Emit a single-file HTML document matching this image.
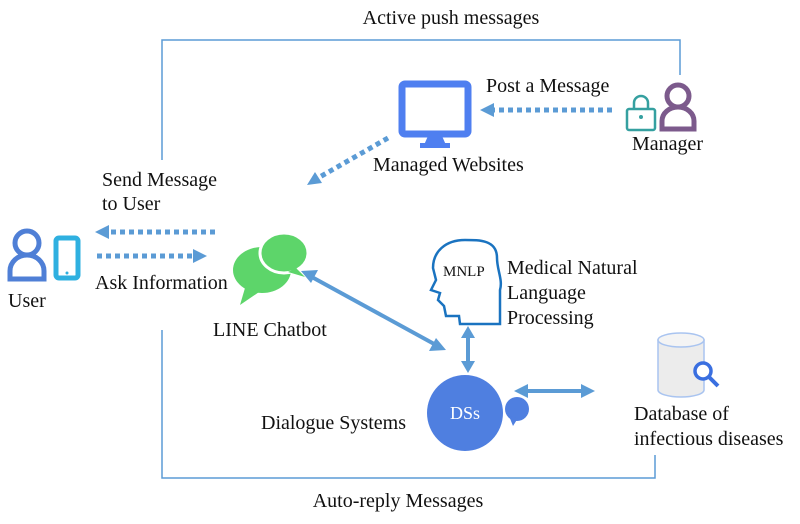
<!DOCTYPE html>
<html><head><style>
body{margin:0;background:#fff}
svg{display:block}
text{font-family:"Liberation Serif",serif;font-size:20px;fill:#111}
</style></head><body>
<svg width="800" height="524" viewBox="0 0 800 524" xmlns="http://www.w3.org/2000/svg">
<g stroke="#5b9bd5" stroke-width="1.5" fill="none">
<polyline points="162,160 162,40 680,40 680,75"/>
<polyline points="162,330 162,478 655,478 655,455"/>
</g>
<text x="451" y="24" text-anchor="middle">Active push messages</text>
<text x="398" y="507" text-anchor="middle">Auto-reply Messages</text>
<g stroke="#5b9bd5" stroke-width="5" stroke-dasharray="5,4" fill="none">
<line x1="612" y1="110" x2="492" y2="110"/>
<line x1="388" y1="138" x2="318" y2="178"/>
<line x1="215" y1="232" x2="108" y2="232"/>
<line x1="97" y1="256" x2="195" y2="256"/>
</g>
<g fill="#5b9bd5">
<path d="M480,110 L494,103 L494,117z"/>
<path d="M307,185 L315,172 L322,183z"/>
<path d="M95,232 L109,225 L109,239z"/>
<path d="M207,256 L193,249 L193,263z"/>
</g>
<g stroke="#5b9bd5" stroke-width="4" fill="none">
<line x1="310" y1="276" x2="436" y2="345"/>
<line x1="468" y1="336" x2="468" y2="364"/>
<line x1="526" y1="391" x2="582" y2="391"/>
</g>
<g fill="#5b9bd5">
<path d="M301,271 L318,270 L311,283z"/>
<path d="M446,350 L429,351 L436,338z"/>
<path d="M468,326 L461,338 L475,338z"/>
<path d="M468,373 L461,361 L475,361z"/>
<path d="M514,391 L528,384 L528,398z"/>
<path d="M595,391 L581,384 L581,398z"/>
</g>
<rect x="402" y="84" width="66" height="50" rx="3" fill="none" stroke="#4f7ff0" stroke-width="7"/>
<path d="M428,136 L442,136 L446,145 L424,145z" fill="#4f7ff0"/>
<rect x="420" y="143" width="30" height="5" fill="#4f7ff0"/>
<text x="373" y="171">Managed Websites</text>
<text x="486" y="92">Post a Message</text>
<rect x="627" y="109" width="28" height="21" rx="2" fill="none" stroke="#35a0a0" stroke-width="2.5"/>
<path d="M634,109 v-6 a7,7 0 0 1 14,0 v6" fill="none" stroke="#35a0a0" stroke-width="2.5"/>
<circle cx="641" cy="117" r="2" fill="#35a0a0"/>
<circle cx="678" cy="96" r="11" fill="none" stroke="#7c5a8c" stroke-width="5"/>
<path d="M662,129 v-8 a16,14 0 0 1 32,0 v8z" fill="none" stroke="#7c5a8c" stroke-width="5"/>
<text x="632" y="150">Manager</text>
<circle cx="27" cy="243" r="12" fill="none" stroke="#4f7fd6" stroke-width="5"/>
<path d="M10,279 v-8 a17,16 0 0 1 34,0 v8z" fill="none" stroke="#4f7fd6" stroke-width="5"/>
<rect x="56" y="238" width="22" height="40" rx="3" fill="none" stroke="#2fb0e0" stroke-width="5"/>
<circle cx="67" cy="273" r="1.5" fill="#2fb0e0"/>
<text x="8" y="307">User</text>
<text x="102" y="186">Send Message</text>
<text x="102" y="210">to User</text>
<text x="95" y="289">Ask Information</text>
<ellipse cx="262" cy="270" rx="29" ry="23" fill="#5dd56a"/>
<path d="M245,288 L240,305 L262,290z" fill="#5dd56a"/>
<ellipse cx="284" cy="253" rx="24" ry="20" fill="#5dd56a" stroke="#fff" stroke-width="3"/>
<path d="M296,268 L305,277 L288,272z" fill="#5dd56a"/>
<text x="213" y="336">LINE Chatbot</text>
<path d="M497,258 C497,240 480,240 465,240 C445,240 433,252 433,268 L436,280 L431,290 L440,293 L438,300 L444,306 L446,316 L459,316 L460,324 L500,324 L500,290 C503,280 497,270 497,258z" fill="none" stroke="#1a73c0" stroke-width="2.5"/>
<text x="443" y="276" style="font-size:15px">MNLP</text>
<text x="507" y="274">Medical Natural</text>
<text x="507" y="299">Language</text>
<text x="507" y="324">Processing</text>
<circle cx="465" cy="413" r="38" fill="#4f7fe0"/>
<text x="465" y="419" text-anchor="middle" style="fill:#fff;font-size:18px">DSs</text>
<circle cx="517" cy="409" r="12" fill="#4f7fe0"/>
<path d="M509,416 L513,426 L518,418z" fill="#4f7fe0"/>
<text x="261" y="429">Dialogue  Systems</text>
<path d="M658,340 v50 a23,7 0 0 0 46,0 v-50z" fill="#ececec" stroke="#a9c4f0" stroke-width="1.5"/>
<ellipse cx="681" cy="340" rx="23" ry="7" fill="#f4f4f4" stroke="#a9c4f0" stroke-width="1.5"/>
<circle cx="703" cy="371" r="8" fill="#fff" stroke="#3a6fe0" stroke-width="3.5"/>
<line x1="709" y1="377" x2="718" y2="386" stroke="#3a6fe0" stroke-width="4"/>
<text x="634" y="420">Database of</text>
<text x="634" y="445">infectious diseases</text>
</svg>
</body></html>
